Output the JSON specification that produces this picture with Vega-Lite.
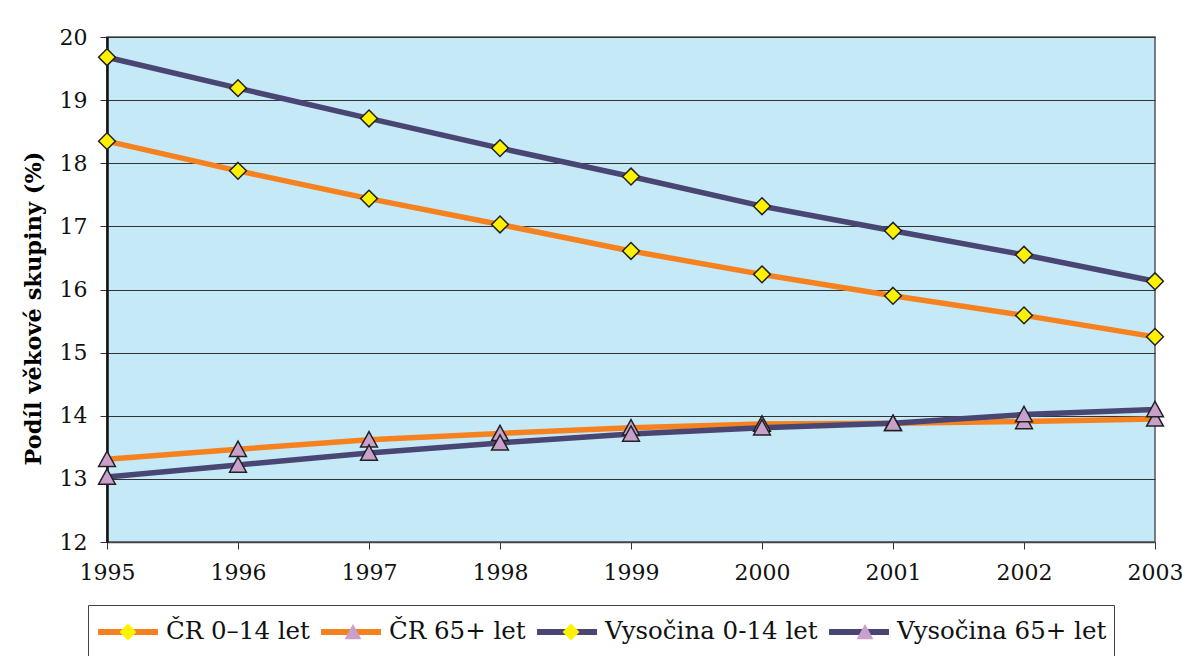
{
  "$schema": "https://vega.github.io/schema/vega-lite/v6.json",
  "width": 1048,
  "height": 505,
  "autosize": {"type": "none"},
  "padding": {"left": 107, "top": 37, "right": 27, "bottom": 114},
  "background": "#ffffff",
  "config": {
    "font": "DejaVu Serif",
    "view": {"fill": "#C6E9F8", "stroke": "#555555", "strokeWidth": 1.5},
    "style": {
      "guide-label": {"font": "DejaVu Serif"},
      "guide-title": {"font": "DejaVu Serif"}
    },
    "axis": {
      "labelFont": "DejaVu Serif",
      "labelColor": "#111111",
      "titleFont": "DejaVu Serif",
      "titleColor": "#000000",
      "tickColor": "#333333",
      "domainColor": "#222222"
    },
    "legend": {
      "labelFont": "DejaVu Serif"
    }
  },
  "data": {
    "values": [
      {"year": 1995, "series": "ČR 0–14 let", "value": 18.35},
      {"year": 1996, "series": "ČR 0–14 let", "value": 17.88},
      {"year": 1997, "series": "ČR 0–14 let", "value": 17.44},
      {"year": 1998, "series": "ČR 0–14 let", "value": 17.03},
      {"year": 1999, "series": "ČR 0–14 let", "value": 16.61},
      {"year": 2000, "series": "ČR 0–14 let", "value": 16.24},
      {"year": 2001, "series": "ČR 0–14 let", "value": 15.9},
      {"year": 2002, "series": "ČR 0–14 let", "value": 15.59},
      {"year": 2003, "series": "ČR 0–14 let", "value": 15.25},
      {"year": 1995, "series": "ČR 65+ let", "value": 13.31},
      {"year": 1996, "series": "ČR 65+ let", "value": 13.47},
      {"year": 1997, "series": "ČR 65+ let", "value": 13.62},
      {"year": 1998, "series": "ČR 65+ let", "value": 13.72},
      {"year": 1999, "series": "ČR 65+ let", "value": 13.81},
      {"year": 2000, "series": "ČR 65+ let", "value": 13.87},
      {"year": 2001, "series": "ČR 65+ let", "value": 13.88},
      {"year": 2002, "series": "ČR 65+ let", "value": 13.91},
      {"year": 2003, "series": "ČR 65+ let", "value": 13.95},
      {"year": 1995, "series": "Vysočina 0-14 let", "value": 19.68},
      {"year": 1996, "series": "Vysočina 0-14 let", "value": 19.19},
      {"year": 1997, "series": "Vysočina 0-14 let", "value": 18.71},
      {"year": 1998, "series": "Vysočina 0-14 let", "value": 18.24},
      {"year": 1999, "series": "Vysočina 0-14 let", "value": 17.79},
      {"year": 2000, "series": "Vysočina 0-14 let", "value": 17.32},
      {"year": 2001, "series": "Vysočina 0-14 let", "value": 16.93},
      {"year": 2002, "series": "Vysočina 0-14 let", "value": 16.55},
      {"year": 2003, "series": "Vysočina 0-14 let", "value": 16.13},
      {"year": 1995, "series": "Vysočina 65+ let", "value": 13.03},
      {"year": 1996, "series": "Vysočina 65+ let", "value": 13.22},
      {"year": 1997, "series": "Vysočina 65+ let", "value": 13.41},
      {"year": 1998, "series": "Vysočina 65+ let", "value": 13.57},
      {"year": 1999, "series": "Vysočina 65+ let", "value": 13.71},
      {"year": 2000, "series": "Vysočina 65+ let", "value": 13.81},
      {"year": 2001, "series": "Vysočina 65+ let", "value": 13.88},
      {"year": 2002, "series": "Vysočina 65+ let", "value": 14.02},
      {"year": 2003, "series": "Vysočina 65+ let", "value": 14.1}
    ]
  },
  "encoding": {
    "x": {
      "field": "year",
      "type": "quantitative",
      "scale": {"domain": [1995, 2003], "nice": false, "zero": false},
      "axis": {
        "title": null,
        "values": [1995, 1996, 1997, 1998, 1999, 2000, 2001, 2002, 2003],
        "format": "d",
        "grid": false,
        "labelFont": "DejaVu Serif",
        "labelFontSize": 22,
        "labelPadding": 13,
        "tickSize": 7,
        "tickWidth": 1,
        "domainWidth": 1.5,
        "domainColor": "#444444",
        "labelFlush": false
      }
    },
    "y": {
      "field": "value",
      "type": "quantitative",
      "scale": {"domain": [12, 20], "nice": false, "zero": false},
      "axis": {
        "title": "Podíl věkové skupiny (%)",
        "titleFont": "DejaVu Serif",
        "titleFontSize": 22.5,
        "titleFontWeight": "bold",
        "titleAngle": -90,
        "titleX": -74,
        "titleY": 271,
        "titleAlign": "center",
        "titleBaseline": "middle",
        "values": [12, 13, 14, 15, 16, 17, 18, 19, 20],
        "grid": true,
        "gridColor": "#333333",
        "gridWidth": 1,
        "labelFont": "DejaVu Serif",
        "labelFontSize": 22,
        "labelPadding": 13,
        "tickSize": 7,
        "tickWidth": 1,
        "domainWidth": 2.5,
        "domainColor": "#111111"
      }
    }
  },
  "layer": [
    {
      "mark": {"type": "line", "strokeWidth": 5.5, "strokeCap": "butt"},
      "encoding": {
        "stroke": {
          "field": "series",
          "type": "nominal",
          "scale": {
            "domain": ["ČR 0–14 let", "ČR 65+ let", "Vysočina 0-14 let", "Vysočina 65+ let"],
            "range": ["#F5821F", "#F5821F", "#4A4674", "#4A4674"]
          },
          "legend": {
            "title": null,
            "orient": "none",
            "legendX": -19,
            "legendY": 568,
            "direction": "horizontal",
            "columns": 4,
            "symbolType": "stroke",
            "symbolSize": 3600,
            "symbolStrokeWidth": 6,
            "clipHeight": 40,
            "padding": 7,
            "labelFont": "DejaVu Serif",
            "labelFontSize": 24.5,
            "labelColor": "#111111",
            "labelOffset": 5,
            "labelLimit": 400,
            "columnPadding": 8,
            "strokeColor": "#444444",
            "zindex": 0
          }
        }
      }
    },
    {
      "mark": {"type": "point", "filled": true, "opacity": 1, "stroke": "#222222", "strokeWidth": 1.5, "size": 3600},
      "encoding": {
        "fill": {
          "field": "series",
          "type": "nominal",
          "scale": {
            "domain": ["ČR 65+ let", "ČR 0–14 let", "Vysočina 0-14 let", "Vysočina 65+ let"],
            "range": ["#C9A0CB", "#FFF200", "#FFF200", "#C9A0CB"]
          },
          "legend": {
            "title": null,
            "values": ["ČR 0–14 let", "ČR 65+ let", "Vysočina 0-14 let", "Vysočina 65+ let"],
            "orient": "none",
            "legendX": -19,
            "legendY": 568,
            "direction": "horizontal",
            "columns": 4,
            "symbolSize": 3600,
            "symbolStrokeWidth": 1.5,
            "symbolStrokeColor": "#222222",
            "symbolOpacity": 1,
            "symbolOffset": 2,
            "clipHeight": 40,
            "padding": 7,
            "labelFont": "DejaVu Serif",
            "labelFontSize": 24.5,
            "labelOpacity": 0,
            "labelOffset": 9,
            "labelLimit": 400,
            "columnPadding": 8,
            "zindex": 1
          }
        },
        "shape": {
          "field": "series",
          "type": "nominal",
          "scale": {
            "domain": ["ČR 65+ let", "ČR 0–14 let", "Vysočina 0-14 let", "Vysočina 65+ let"],
            "range": [
              "M0,-0.27L0.28,0.24L-0.28,0.24Z",
              "M0,-0.28L0.28,0L0,0.28L-0.28,0Z",
              "M0,-0.28L0.28,0L0,0.28L-0.28,0Z",
              "M0,-0.27L0.28,0.24L-0.28,0.24Z"
            ]
          },
          "legend": {
            "title": null,
            "values": ["ČR 0–14 let", "ČR 65+ let", "Vysočina 0-14 let", "Vysočina 65+ let"],
            "orient": "none",
            "legendX": -19,
            "legendY": 568,
            "direction": "horizontal",
            "columns": 4,
            "symbolSize": 3600,
            "symbolStrokeWidth": 1.5,
            "symbolStrokeColor": "#222222",
            "symbolOpacity": 1,
            "symbolOffset": 2,
            "clipHeight": 40,
            "padding": 7,
            "labelFont": "DejaVu Serif",
            "labelFontSize": 24.5,
            "labelOpacity": 0,
            "labelOffset": 9,
            "labelLimit": 400,
            "columnPadding": 8,
            "zindex": 1
          }
        }
      }
    }
  ]
}
